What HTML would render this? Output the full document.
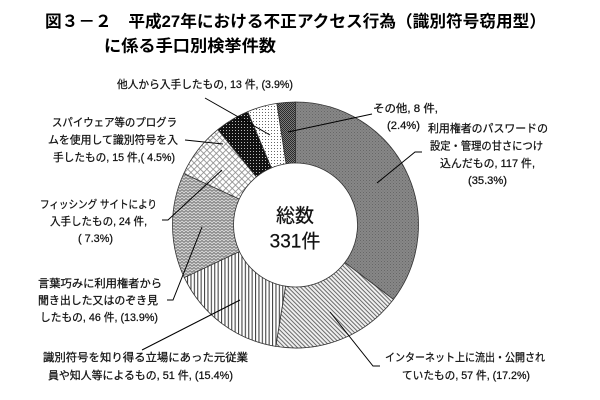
<!DOCTYPE html>
<html>
<head>
<meta charset="utf-8">
<style>
  html, body { margin: 0; padding: 0; background: #ffffff; }
  body { width: 600px; height: 400px; overflow: hidden; }
  svg { display: block; }
  .t { font-family: "Liberation Sans", "Noto Sans CJK JP", sans-serif; fill: #111; stroke: #111; stroke-width: 0.25px; }
  .ttl { font-family: "Liberation Sans", "Noto Sans CJK JP", sans-serif; fill: #000; font-weight: bold; font-size: 16.5px; }
  .lb { font-size: 11px; }
</style>
</head>
<body>
<svg width="600" height="400" viewBox="0 0 600 400" xmlns="http://www.w3.org/2000/svg">
  <defs>
    <pattern id="p1" width="3" height="3" patternUnits="userSpaceOnUse">
      <rect width="3" height="3" fill="#878787"/>
      <rect x="0" y="0" width="1" height="1" fill="#666666"/>
      <rect x="1.5" y="1.5" width="1" height="1" fill="#707070"/>
    </pattern>
    <pattern id="p2" width="3" height="3" patternUnits="userSpaceOnUse" patternTransform="rotate(-45)">
      <rect width="3" height="3" fill="#efefef"/>
      <rect width="1" height="3" fill="#6a6a6a"/>
    </pattern>
    <pattern id="p3" width="3.4" height="4" patternUnits="userSpaceOnUse">
      <rect width="3.4" height="4" fill="#ffffff"/>
      <rect width="1.1" height="4" fill="#444444"/>
    </pattern>
    <pattern id="p4" width="4" height="3" patternUnits="userSpaceOnUse">
      <rect width="4" height="3" fill="#d2d2d2"/>
      <path d="M0 2.5 L2 0.5 L4 2.5" fill="none" stroke="#666666" stroke-width="0.8"/>
    </pattern>
    <pattern id="p5" width="4.5" height="4.5" patternUnits="userSpaceOnUse" patternTransform="rotate(45)">
      <rect width="4.5" height="4.5" fill="#ffffff"/>
      <rect width="0.8" height="4.5" fill="#8a8a8a"/>
      <rect width="4.5" height="0.8" fill="#8a8a8a"/>
    </pattern>
    <pattern id="p6" width="3" height="3" patternUnits="userSpaceOnUse">
      <rect width="3" height="3" fill="#111111"/>
      <rect x="1" y="1" width="1" height="1" fill="#bbbbbb"/>
    </pattern>
    <pattern id="p7" width="3" height="3" patternUnits="userSpaceOnUse">
      <rect width="3" height="3" fill="#ffffff"/>
      <rect x="1" y="1" width="1" height="1" fill="#666666"/>
    </pattern>
    <pattern id="p8" width="2" height="2" patternUnits="userSpaceOnUse">
      <rect width="2" height="2" fill="#7a7a7a"/>
      <rect width="1" height="1" fill="#2a2a2a"/>
      <rect x="1" y="1" width="1" height="1" fill="#2a2a2a"/>
    </pattern>
  </defs>

  <rect width="600" height="400" fill="#ffffff"/>

  <!-- Title -->
  <text class="ttl" x="45" y="22" dominant-baseline="central" textLength="501" lengthAdjust="spacingAndGlyphs">図３－２　平成27年における不正アクセス行為（識別符号窃用型）</text>
  <text class="ttl" x="104" y="46.5" dominant-baseline="central" textLength="172" lengthAdjust="spacingAndGlyphs">に係る手口別検挙件数</text>

  <!-- Donut slices -->
  <g stroke="#333333" stroke-width="0.8" stroke-linejoin="round">
    <path fill="url(#p1)" d="M295.5,102 A123,123 0 0 1 393.40,299.45 L344.85,262.53 A62,62 0 0 0 295.5,163 Z"/>
    <path fill="url(#p2)" d="M393.40,299.45 A123,123 0 0 1 275.75,346.40 L285.54,286.19 A62,62 0 0 0 344.85,262.53 Z"/>
    <path fill="url(#p3)" d="M275.75,346.40 A123,123 0 0 1 184.30,277.55 L239.45,251.49 A62,62 0 0 0 285.54,286.19 Z"/>
    <path fill="url(#p4)" d="M184.30,277.55 A123,123 0 0 1 183.78,173.52 L239.19,199.05 A62,62 0 0 0 239.45,251.49 Z"/>
    <path fill="url(#p5)" d="M183.78,173.52 A123,123 0 0 1 217.84,129.61 L256.35,176.92 A62,62 0 0 0 239.19,199.05 Z"/>
    <path fill="url(#p6)" d="M217.84,129.61 A123,123 0 0 1 247.75,111.64 L271.43,167.86 A62,62 0 0 0 256.35,176.92 Z"/>
    <path fill="url(#p7)" d="M247.75,111.64 A123,123 0 0 1 276.89,103.41 L286.12,163.71 A62,62 0 0 0 271.43,167.86 Z"/>
    <path fill="url(#p8)" d="M276.89,103.41 A123,123 0 0 1 295.5,102 L295.5,163 A62,62 0 0 0 286.12,163.71 Z"/>
  </g>

  <!-- Leader lines -->
  <g stroke="#000000" stroke-width="1" fill="none">
    <polyline points="372,114 288,132"/>
    <polyline points="205,98 270,135"/>
    <polyline points="185,140 223,144"/>
    <polyline points="162,220 168,220 222,170"/>
    <polyline points="167,300 173,300 202,227"/>
    <polyline points="142,350 240,300"/>
    <polyline points="330,312 373,366 380,366"/>
    <polyline points="377,183 415,152 422,152"/>
  </g>

  <!-- Center text -->
  <text class="t" x="295" y="216.5" text-anchor="middle" dominant-baseline="central" font-size="19">総数</text>
  <text class="t" x="295" y="242" text-anchor="middle" dominant-baseline="central" font-size="19">331件</text>

  <!-- Labels -->
  <g class="t lb" text-anchor="middle" dominant-baseline="central">
    <!-- 他人から -->
    <text x="205" y="85" textLength="176" lengthAdjust="spacingAndGlyphs">他人から入手したもの, 13 件, (3.9%)</text>

    <!-- スパイウェア -->
    <text x="114.5" y="123" textLength="125" lengthAdjust="spacingAndGlyphs">スパイウェア等のプログラ</text>
    <text x="113" y="140.5" textLength="130" lengthAdjust="spacingAndGlyphs">ムを使用して識別符号を入</text>
    <text x="114" y="158" textLength="122" lengthAdjust="spacingAndGlyphs">手したもの, 15 件,( 4.5%)</text>

    <!-- フィッシング -->
    <text x="98.5" y="205" textLength="117" lengthAdjust="spacingAndGlyphs">フィッシング サイトにより</text>
    <text x="98.5" y="222" textLength="97" lengthAdjust="spacingAndGlyphs">入手したもの, 24 件,</text>
    <text x="95.5" y="239" textLength="35" lengthAdjust="spacingAndGlyphs">( 7.3%)</text>

    <!-- 言葉巧み -->
    <text x="100" y="284" textLength="124" lengthAdjust="spacingAndGlyphs">言葉巧みに利用権者から</text>
    <text x="98" y="301" textLength="120" lengthAdjust="spacingAndGlyphs">聞き出した又はのぞき見</text>
    <text x="99" y="318" textLength="118" lengthAdjust="spacingAndGlyphs">したもの, 46 件, (13.9%)</text>

    <!-- 識別符号 -->
    <text x="145.5" y="358" textLength="205" lengthAdjust="spacingAndGlyphs">識別符号を知り得る立場にあった元従業</text>
    <text x="140.5" y="376" textLength="185" lengthAdjust="spacingAndGlyphs">員や知人等によるもの, 51 件, (15.4%)</text>

    <!-- インターネット -->
    <text x="465" y="358" textLength="160" lengthAdjust="spacingAndGlyphs">インターネット上に流出・公開され</text>
    <text x="466" y="376" textLength="128" lengthAdjust="spacingAndGlyphs">ていたもの, 57 件, (17.2%)</text>

    <!-- その他 -->
    <text x="405.5" y="109" textLength="65" lengthAdjust="spacingAndGlyphs">その他, 8 件,</text>
    <text x="403.5" y="126" textLength="33" lengthAdjust="spacingAndGlyphs">(2.4%)</text>

    <!-- 利用権者 -->
    <text x="488" y="129" textLength="120" lengthAdjust="spacingAndGlyphs">利用権者のパスワードの</text>
    <text x="486.5" y="146.5" textLength="113" lengthAdjust="spacingAndGlyphs">設定・管理の甘さにつけ</text>
    <text x="487.5" y="164" textLength="95" lengthAdjust="spacingAndGlyphs">込んだもの, 117 件,</text>
    <text x="487.5" y="181" textLength="39" lengthAdjust="spacingAndGlyphs">(35.3%)</text>
  </g>
</svg>
</body>
</html>
